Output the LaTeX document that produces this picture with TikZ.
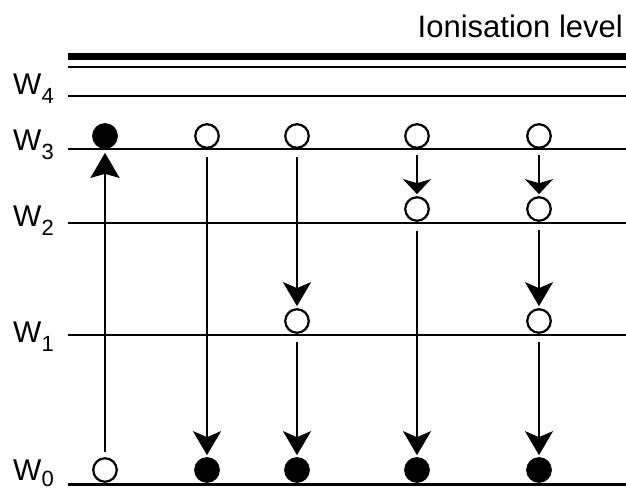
\documentclass[tikz,border=0pt]{standalone}
\usepackage{fontspec}
\setmainfont{Liberation Sans}
\usetikzlibrary{arrows.meta}
\begin{document}
\begin{tikzpicture}[x=1pt,y=-1pt,
  levelline/.style={line width=2.4pt},
  dotbase/.style={circle, draw, line width=2.2pt, minimum size=23.5pt, inner sep=0pt},
  filldot/.style={dotbase, fill=black},
  opendot/.style={dotbase, fill=white},
  bigarrow/.style={line width=2.2pt, -{Stealth[length=24pt,width=28pt,inset=6pt]}, shorten <=8pt, shorten >=2pt},
  smallarrow/.style={line width=2.2pt, -{Stealth[length=15pt,width=28pt,inset=4pt]}, shorten <=6pt, shorten >=2pt},
  lab/.style={anchor=base west, inner sep=0pt, font=\fontsize{30}{30}\selectfont}]
\useasboundingbox (0,0) rectangle (626,490);
% ionisation level
\node[anchor=base east, inner sep=0pt, font=\fontsize{31}{31}\selectfont] (title) at (623,37) {Ionisation level};
\draw[line width=7pt] (68,56.5) -- (626,56.5);
\draw[line width=2.5pt] (68,67) -- (626,67);
% levels
\draw[levelline] (68,96) -- (626,96);
\draw[levelline] (68,149) -- (626,149);
\draw[levelline] (68,223) -- (626,223);
\draw[levelline] (68,335) -- (626,335);
\draw[levelline] (68,484.5) -- (626,484.5);
% labels
\node[lab] (w4) at (13,94) {W\raisebox{-9pt}{\fontsize{22}{22}\selectfont 4}};
\node[lab] (w3) at (13,150) {W\raisebox{-9pt}{\fontsize{22}{22}\selectfont 3}};
\node[lab] (w2) at (13,226) {W\raisebox{-9pt}{\fontsize{22}{22}\selectfont 2}};
\node[lab] (w1) at (13,342) {W\raisebox{-9pt}{\fontsize{22}{22}\selectfont 1}};
\node[lab] (w0) at (13,480) {W\raisebox{-6pt}{\fontsize{22}{22}\selectfont 0}};
% column 1
\node[filldot] (a3) at (105,136) {};
\node[opendot] (a0) at (105,470) {};
\draw[line width=2.2pt, -{Stealth[length=25pt,width=29pt,inset=4pt]}, shorten <=5pt, shorten >=4pt] (a0) -- (a3);
% column 2
\node[opendot] (b3) at (207,136) {};
\node[filldot] (b0) at (207,470) {};
\draw[bigarrow] (b3) -- (b0);
% column 3
\node[opendot] (c3) at (297,136) {};
\node[opendot] (c1) at (297,321) {};
\node[filldot] (c0) at (297,470) {};
\draw[bigarrow] (c3) -- (c1);
\draw[bigarrow] (c1) -- (c0);
% column 4
\node[opendot] (d3) at (417,136) {};
\node[opendot] (d2) at (417,209) {};
\node[filldot] (d0) at (417,470) {};
\draw[smallarrow] (d3) -- (d2);
\draw[bigarrow, shorten <=9pt] (d2) -- (d0);
% column 5
\node[opendot] (e3) at (539,136) {};
\node[opendot] (e2) at (539,209) {};
\node[opendot] (e1) at (539,321) {};
\node[filldot] (e0) at (539,470) {};
\draw[smallarrow] (e3) -- (e2);
\draw[bigarrow] (e2) -- (e1);
\draw[bigarrow] (e1) -- (e0);
\end{tikzpicture}
\end{document}
